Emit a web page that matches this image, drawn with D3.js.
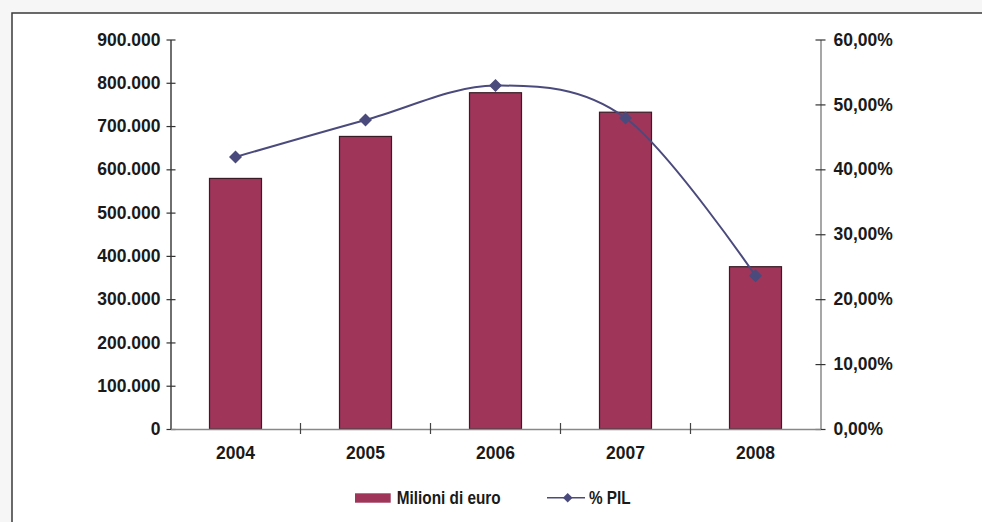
<!DOCTYPE html>
<html>
<head>
<meta charset="utf-8">
<script src="https://cdn.jsdelivr.net/npm/d3@7"></script>
<style>
  html, body { margin: 0; padding: 0; background: #f6f6f6; }
  svg { display: block; }
  text { font-family: "Liberation Sans", Arial, Helvetica, sans-serif; font-weight: bold; fill: #1a1a1a; }
</style>
</head>
<body>
<svg id="chart" width="982" height="522"></svg>
<script>
// Years on the category axis
const years = ["2004", "2005", "2006", "2007", "2008"];
// Bar series: amount in millions of euro
const milioniEuro = [579000, 676000, 777000, 732000, 375000];
// Line series: share of GDP
const percPil = [0.419, 0.476, 0.529, 0.479, 0.236];
// Tick values for both value axes
const leftTicks = [0, 100000, 200000, 300000, 400000, 500000, 600000, 700000, 800000, 900000];
const rightTicks = [0, 0.1, 0.2, 0.3, 0.4, 0.5, 0.6];
// Legend entries
const legendLabels = ["Milioni di euro", "% PIL"];

const barColor = "#a0355a";
const lineColor = "#4b4a7c";
const labelSize = 17.5;

const itLocale = d3.formatLocale({ decimal: ",", thousands: ".", grouping: [3], currency: ["€", ""] });
const fmtLeft = itLocale.format(",.0f");
const fmtRight = itLocale.format(".2%");

const svg = d3.select("#chart");

// Page frame
svg.append("rect")
  .attr("x", 12).attr("y", 13).attr("width", 990).attr("height", 530)
  .attr("fill", "#ffffff").attr("stroke", "#3a3a3a").attr("stroke-width", 1.5);

const plot = { left: 170.5, right: 820.5, top: 39.5, bottom: 429 };

const x = d3.scaleBand().domain(years).range([plot.left, plot.right]).padding(0);
const yL = d3.scaleLinear().domain([0, 900000]).range([plot.bottom, plot.top]);
const yR = d3.scaleLinear().domain([0, 0.6]).range([plot.bottom, plot.top]);

// Bars
const barW = x.bandwidth() * 0.4;
svg.append("g").selectAll("rect")
  .data(years)
  .join("rect")
  .attr("x", d => x(d) + (x.bandwidth() - barW) / 2)
  .attr("y", (d, i) => yL(milioniEuro[i]))
  .attr("width", barW)
  .attr("height", (d, i) => plot.bottom - yL(milioniEuro[i]))
  .attr("fill", barColor)
  .attr("stroke", "#3a1c26")
  .attr("stroke-width", 1.2);

// Left axis
const gL = svg.append("g")
  .attr("transform", `translate(${plot.left},0)`)
  .call(d3.axisLeft(yL).tickValues(leftTicks).tickFormat(fmtLeft).tickSize(4).tickSizeOuter(0).tickPadding(6));
gL.select(".domain").attr("stroke", "#222").attr("stroke-width", 1.3);
gL.selectAll(".tick line").attr("x1", 5).attr("x2", -4).attr("stroke", "#333").attr("stroke-width", 1.2);
gL.selectAll(".tick text").attr("font-size", labelSize).attr("font-family", null).attr("fill", "#1a1a1a");

// Right axis
const gR = svg.append("g")
  .attr("transform", `translate(${plot.right},0)`)
  .call(d3.axisRight(yR).tickValues(rightTicks).tickFormat(fmtRight).tickSize(5).tickSizeOuter(0).tickPadding(8));
gR.select(".domain").attr("stroke", "#777").attr("stroke-width", 1.3);
gR.selectAll(".tick line").attr("x1", -5).attr("x2", 5).attr("stroke", "#333").attr("stroke-width", 1.2);
gR.selectAll(".tick text").attr("font-size", labelSize).attr("font-family", null).attr("fill", "#1a1a1a");

// Category axis
const gX = svg.append("g")
  .attr("transform", `translate(0,${plot.bottom})`)
  .call(d3.axisBottom(x).tickSize(0).tickPadding(18));
gX.select(".domain").attr("stroke", "#888").attr("stroke-width", 1.3);
gX.selectAll(".tick text").attr("font-size", labelSize).attr("font-family", null).attr("fill", "#1a1a1a");
gX.selectAll(".sep")
  .data(years.slice(1))
  .join("line")
  .attr("class", "sep")
  .attr("x1", d => x(d)).attr("x2", d => x(d))
  .attr("y1", -6).attr("y2", 5)
  .attr("stroke", "#444").attr("stroke-width", 1.2);

// % PIL line
const pts = years.map((d, i) => [x(d) + x.bandwidth() / 2, yR(percPil[i])]);
svg.append("path")
  .attr("d", d3.line().curve(d3.curveCardinal.tension(0))(pts))
  .attr("fill", "none")
  .attr("stroke", lineColor)
  .attr("stroke-width", 2);

const diamond = d3.symbol(d3.symbolSquare, 85);
svg.append("g").selectAll("path")
  .data(pts)
  .join("path")
  .attr("d", diamond)
  .attr("transform", p => `translate(${p[0]},${p[1]}) rotate(45)`)
  .attr("fill", lineColor);

// Legend
const lg = svg.append("g");
lg.append("rect")
  .attr("x", 355).attr("y", 493.3).attr("width", 35.7).attr("height", 9.4)
  .attr("fill", barColor);
lg.append("text")
  .attr("x", 396.7).attr("y", 503.5)
  .attr("font-size", 17.5)
  .attr("textLength", 104).attr("lengthAdjust", "spacingAndGlyphs")
  .text(legendLabels[0]);
lg.append("line")
  .attr("x1", 547).attr("x2", 585).attr("y1", 497.7).attr("y2", 497.7)
  .attr("stroke", lineColor).attr("stroke-width", 1.6);
lg.append("path")
  .attr("d", d3.symbol(d3.symbolSquare, 46))
  .attr("transform", "translate(567.7,497.7) rotate(45)")
  .attr("fill", lineColor);
lg.append("text")
  .attr("x", 589).attr("y", 503.5)
  .attr("font-size", 17.5)
  .attr("textLength", 41.7).attr("lengthAdjust", "spacingAndGlyphs")
  .text(legendLabels[1]);
</script>
</body>
</html>
